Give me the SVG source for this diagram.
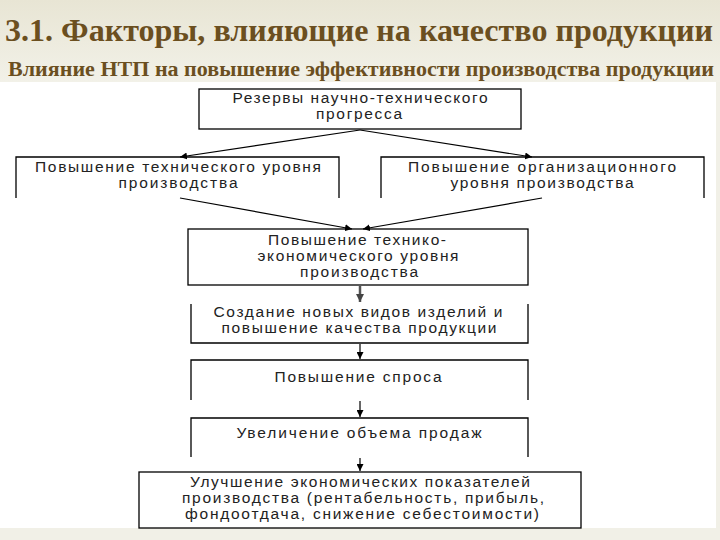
<svg xmlns="http://www.w3.org/2000/svg" width="720" height="540" viewBox="0 0 720 540">
<defs>
<linearGradient id="hdr" x1="0" y1="0" x2="0" y2="1">
<stop offset="0" stop-color="#e8e5d4"/>
<stop offset="1" stop-color="#f2f1e8"/>
</linearGradient>
<marker id="ah" viewBox="0 0 10 10" refX="10" refY="5" markerWidth="7" markerHeight="7" markerUnits="userSpaceOnUse" orient="auto">
<path d="M0,0 L10,5 L0,10 z" fill="#000"/>
</marker>
<marker id="ahg" viewBox="0 0 10 10" refX="10" refY="5" markerWidth="8" markerHeight="8" markerUnits="userSpaceOnUse" orient="auto">
<path d="M0,0 L10,5 L0,10 z" fill="#444"/>
</marker>
</defs>
<style>
.title{font-family:"Liberation Serif","Times New Roman",serif;font-weight:bold;fill:#6b4f1f}
.box{fill:#fff;stroke:#000;stroke-width:1.3}
.edge{fill:none;stroke:#000;stroke-width:1.3}
.t{font-family:"Liberation Sans",Arial,sans-serif;font-size:15.5px;fill:#222;text-anchor:middle}
.ln{stroke:#000;stroke-width:1.2;fill:none}
</style>
<rect x="0" y="0" width="720" height="540" fill="#f1f0e7"/>
<rect x="0" y="0" width="720" height="82" fill="url(#hdr)"/>
<rect x="0" y="82" width="716" height="446" fill="#ffffff"/>
<text class="title" x="5" y="41" font-size="31" textLength="708" lengthAdjust="spacingAndGlyphs">3.1. Факторы, влияющие на качество продукции</text>
<text class="title" x="8" y="76" font-size="20" textLength="706" lengthAdjust="spacingAndGlyphs">Влияние НТП на повышение эффективности производства продукции</text>

<g id="n1">
<rect class="box" x="199" y="89" width="322" height="40"/>
<text class="t" x="360" y="103" textLength="255" lengthAdjust="spacing">Резервы научно-технического</text>
<text class="t" x="359" y="119" textLength="86" lengthAdjust="spacing">прогресса</text>
</g>
<g id="n2">
<path class="edge" d="M16,198 V157 H339 V198"/>
<text class="t" x="178" y="172" textLength="286" lengthAdjust="spacing">Повышение технического уровня</text>
<text class="t" x="178" y="188" textLength="119" lengthAdjust="spacing">производства</text>
</g>
<g id="n3">
<path class="edge" d="M381,198 V157 H704 V198"/>
<text class="t" x="542" y="172" textLength="268" lengthAdjust="spacing">Повышение  организационного</text>
<text class="t" x="542" y="188" textLength="183" lengthAdjust="spacing">уровня производства</text>
</g>
<g id="n4">
<rect class="box" x="188" y="229" width="340" height="56"/>
<text class="t" x="357" y="245" textLength="178" lengthAdjust="spacing">Повышение технико-</text>
<text class="t" x="358" y="261" textLength="201" lengthAdjust="spacing">экономического уровня</text>
<text class="t" x="359" y="277" textLength="118" lengthAdjust="spacing">производства</text>
</g>
<g id="n5">
<path class="edge" d="M191,304 V343 H528 V304"/>
<text class="t" x="358" y="317" textLength="289" lengthAdjust="spacing">Создание новых видов изделий и</text>
<text class="t" x="359" y="333" textLength="275" lengthAdjust="spacing">повышение качества продукции</text>
</g>
<g id="n6">
<path class="edge" d="M191,400 V360 H528 V400"/>
<text class="t" x="358" y="382" textLength="167" lengthAdjust="spacing">Повышение спроса</text>
</g>
<g id="n7">
<path class="edge" d="M191,457 V418 H528 V457"/>
<text class="t" x="359" y="438" textLength="245" lengthAdjust="spacing">Увеличение объема продаж</text>
</g>
<g id="n8">
<rect class="box" x="139" y="472" width="442" height="56"/>
<text class="t" x="360" y="487" textLength="340" lengthAdjust="spacing">Улучшение экономических показателей</text>
<text class="t" x="363" y="503" textLength="362" lengthAdjust="spacing">производства (рентабельность, прибыль,</text>
<text class="t" x="362" y="519" textLength="354" lengthAdjust="spacing">фондоотдача, снижение себестоимости)</text>
</g>

<g id="connectors">
<line class="ln" x1="360" y1="130" x2="180" y2="157" marker-end="url(#ah)"/>
<line class="ln" x1="360" y1="130" x2="532" y2="157" marker-end="url(#ah)"/>
<line class="ln" x1="180" y1="198" x2="352" y2="229" marker-end="url(#ah)"/>
<line class="ln" x1="542" y1="198" x2="363" y2="229" marker-end="url(#ah)"/>
<line x1="360" y1="286" x2="360" y2="302" stroke="#555" stroke-width="2.5" marker-end="url(#ahg)"/>
<line class="ln" x1="360" y1="344" x2="360" y2="359" stroke-width="2" marker-end="url(#ah)"/>
<line class="ln" x1="360" y1="401" x2="360" y2="417" stroke-width="2" marker-end="url(#ah)"/>
<line class="ln" x1="360" y1="458" x2="360" y2="471" marker-end="url(#ah)"/>
</g>
</svg>
